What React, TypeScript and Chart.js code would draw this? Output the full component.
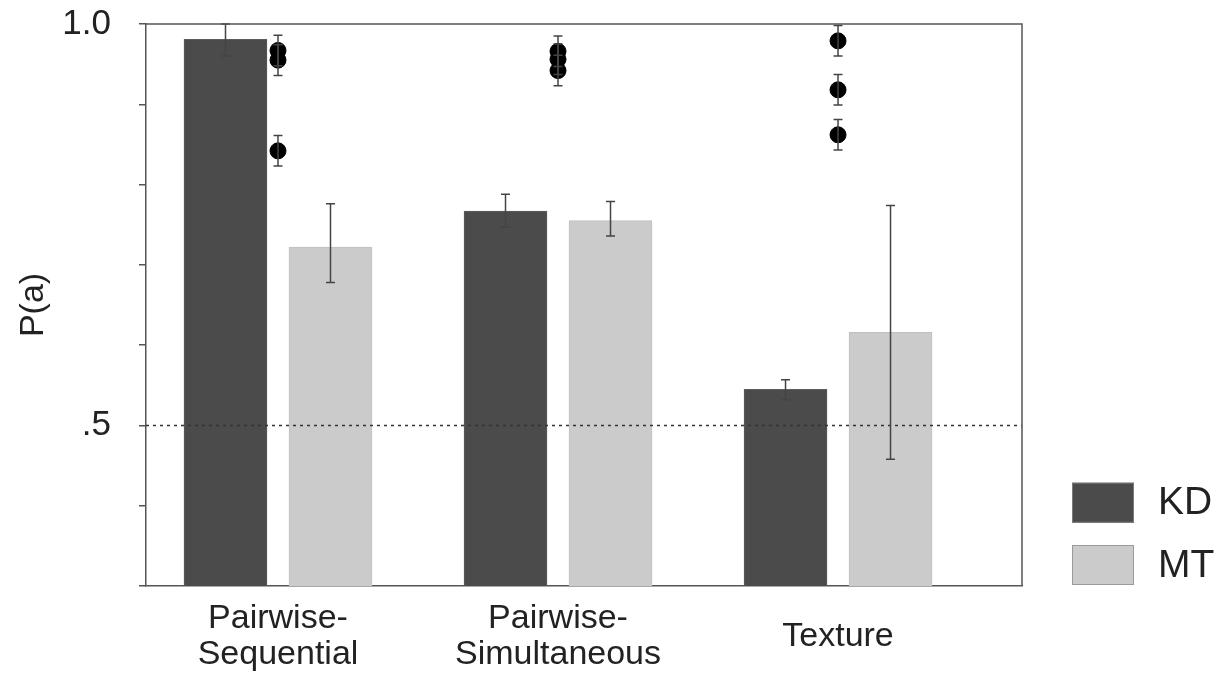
import React, { useEffect, useRef } from "react";
import { Chart, registerables } from "chart.js";

Chart.register(...registerables);

// ---- data ----
const categoryLines: string[][] = [["Pairwise-", "Sequential"], ["Pairwise-", "Simultaneous"], ["Texture"]];
const categoryX = [1, 2, 3];

const seriesLabels = ["KD", "MT"];
const kdMeans = [0.981, 0.767, 0.545];
const kdLow = [0.96, 0.747, 0.532];
const kdHigh = [1.0, 0.788, 0.557];

const mtMeans = [0.722, 0.755, 0.616];
const mtLow = [0.678, 0.736, 0.458];
const mtHigh = [0.776, 0.779, 0.774];

// individual observers (black dots) per category
const dotCategory = [1, 1, 1, 2, 2, 2, 3, 3, 3];
const dotValues = [0.967, 0.955, 0.842, 0.966, 0.956, 0.942, 0.979, 0.918, 0.862];
const dotErr = [0.019, 0.019, 0.019, 0.019, 0.019, 0.019, 0.019, 0.019, 0.019];

const chanceLevel = 0.5;
const yMin = 0.3;
const yMax = 1.0;
const yStep = 0.1;
const xMin = 0.5286;
const xMax = 3.657;

const FONT = "'Liberation Sans', Arial, Helvetica, sans-serif";
const AXIS = "#555555";

const errorBarsPlugin = {
  id: "errorBars",
  afterDatasetsDraw(chart: any) {
    const ctx = chart.ctx;
    const y = chart.scales.y;
    const drawBar = (x: number, lo: number, hi: number) => {
      const py1 = y.getPixelForValue(hi);
      const py2 = y.getPixelForValue(lo);
      ctx.beginPath();
      ctx.moveTo(x, py1);
      ctx.lineTo(x, py2);
      ctx.moveTo(x - 4.5, py1);
      ctx.lineTo(x + 4.5, py1);
      ctx.moveTo(x - 4.5, py2);
      ctx.lineTo(x + 4.5, py2);
      ctx.stroke();
    };
    ctx.save();
    ctx.strokeStyle = "#444444";
    ctx.lineWidth = 1.5;
    const kdMeta = chart.getDatasetMeta(0);
    kdMeta.data.forEach((el: any, i: number) => drawBar(el.x, kdLow[i], kdHigh[i]));
    const mtMeta = chart.getDatasetMeta(1);
    mtMeta.data.forEach((el: any, i: number) => drawBar(el.x, mtLow[i], mtHigh[i]));
    const dotMeta = chart.getDatasetMeta(2);
    dotMeta.data.forEach((el: any, i: number) =>
      drawBar(el.x, dotValues[i] - dotErr[i], dotValues[i] + dotErr[i])
    );
    ctx.restore();
  },
};

const framePlugin = {
  id: "frameAndLabels",
  afterDraw(chart: any) {
    const ctx = chart.ctx;
    const { top, right, bottom, left } = chart.chartArea;
    ctx.save();
    // frame top + right
    ctx.strokeStyle = AXIS;
    ctx.lineWidth = 1.5;
    ctx.beginPath();
    ctx.moveTo(left, top);
    ctx.lineTo(right, top);
    ctx.lineTo(right, bottom);
    ctx.stroke();

    // category labels
    const xs = chart.scales.x;
    ctx.fillStyle = "#222222";
    ctx.font = `34px ${FONT}`;
    ctx.textAlign = "center";
    ctx.textBaseline = "alphabetic";
    categoryLines.forEach((lines, i) => {
      const px = xs.getPixelForValue(categoryX[i]);
      if (lines.length === 1) {
        ctx.fillText(lines[0], px, bottom + 60);
      } else {
        lines.forEach((ln, j) => ctx.fillText(ln, px, bottom + 42 + j * 36.3));
      }
    });

    // legend
    const ds = chart.data.datasets;
    ctx.font = `39px ${FONT}`;
    ctx.textAlign = "left";
    ctx.textBaseline = "middle";
    const boxX = right + 50;
    const boxW = 62;
    const boxH = 40;
    [0, 1].forEach((k) => {
      const by = bottom - 103.3 + k * 62.3;
      ctx.fillStyle = ds[k].backgroundColor;
      ctx.fillRect(boxX, by, boxW, boxH);
      ctx.strokeStyle = k === 0 ? "#7a7a7a" : "#9a9a9a";
      ctx.lineWidth = 1;
      ctx.strokeRect(boxX + 0.5, by + 0.5, boxW - 1, boxH - 1);
      ctx.fillStyle = "#222222";
      ctx.fillText(ds[k].label, boxX + boxW + 24, by + boxH / 2 + 1);
    });
    ctx.restore();
  },
};

export default function App() {
  const canvasRef = useRef<HTMLCanvasElement | null>(null);

  useEffect(() => {
    if (!canvasRef.current) return;
    const chart = new Chart(canvasRef.current, {
      type: "bar",
      data: {
        datasets: [
          {
            type: "bar",
            label: seriesLabels[0],
            data: categoryX.map((x, i) => ({ x, y: kdMeans[i] })),
            backgroundColor: "#4b4b4b",
            borderColor: "#5c5c5c",
            borderWidth: 1,
            barThickness: 105,
            maxBarThickness: 83,
            order: 2,
          },
          {
            type: "bar",
            label: seriesLabels[1],
            data: categoryX.map((x, i) => ({ x, y: mtMeans[i] })),
            backgroundColor: "#cbcbcb",
            borderColor: "#c0c0c0",
            borderWidth: 1,
            barThickness: 105,
            maxBarThickness: 83,
            order: 3,
          },
          {
            type: "scatter",
            label: "observers",
            data: dotCategory.map((x, i) => ({ x, y: dotValues[i] })),
            backgroundColor: "#000000",
            borderColor: "#000000",
            pointRadius: 8,
            pointHoverRadius: 8,
            order: 1,
          },
          {
            type: "line",
            label: "chance",
            data: [
              { x: xMin, y: chanceLevel },
              { x: xMax, y: chanceLevel },
            ],
            borderColor: "#333333",
            borderWidth: 1.5,
            borderDash: [3, 4],
            pointRadius: 0,
            fill: false,
            order: 0,
          },
        ],
      } as any,
      options: {
        animation: false,
        responsive: true,
        maintainAspectRatio: false,
        layout: { padding: { top: 16, right: 201, left: 0, bottom: 0 } },
        plugins: {
          legend: { display: false },
          tooltip: { enabled: false },
        },
        scales: {
          x: {
            type: "linear",
            min: xMin,
            max: xMax,
            offset: false,
            grid: { display: false, offset: false },
            border: { display: true, color: AXIS, width: 1.5 },
            ticks: { display: false },
            afterFit(scale: any) {
              scale.height = 93;
              scale.paddingLeft = 0;
              scale.paddingRight = 0;
            },
          },
          y: {
            type: "linear",
            min: yMin,
            max: yMax,
            border: { display: true, color: AXIS, width: 1.5 },
            grid: {
              display: true,
              drawOnChartArea: false,
              drawTicks: true,
              tickLength: 7,
              color: AXIS,
              lineWidth: 1.5,
            },
            ticks: {
              stepSize: yStep,
              padding: 28,
              color: "#222222",
              font: { family: FONT, size: 35 },
              callback: (v: any) => {
                const n = Number(v);
                if (Math.abs(n - 1.0) < 1e-6) return "1.0";
                if (Math.abs(n - 0.5) < 1e-6) return ".5";
                return "";
              },
            },
            title: {
              display: true,
              text: "P(a)",
              color: "#222222",
              font: { family: FONT, size: 34 },
              padding: { top: 5, bottom: 0 },
            },
            afterFit(scale: any) {
              scale.width = 138;
              scale.paddingTop = 0;
              scale.paddingBottom = 0;
            },
          },
        },
      } as any,
      plugins: [errorBarsPlugin, framePlugin],
    });
    return () => chart.destroy();
  }, []);

  return (
    <div style={{ position: "relative", width: "1215px", height: "671px" }}>
      <canvas ref={canvasRef} />
    </div>
  );
}
